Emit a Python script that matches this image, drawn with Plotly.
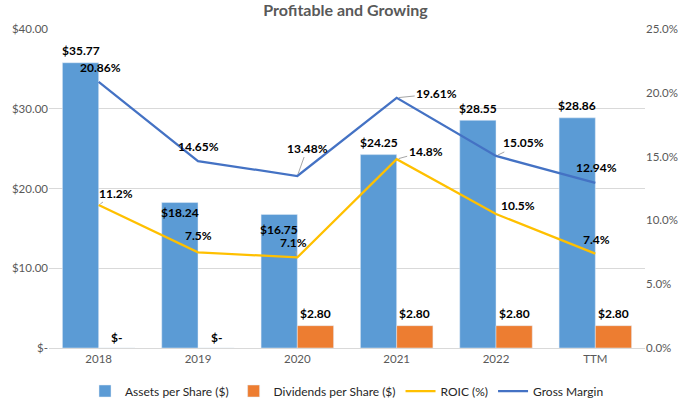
import plotly.graph_objects as go

categories = ["2018", "2019", "2020", "2021", "2022", "TTM"]
assets = [35.77, 18.24, 16.75, 24.25, 28.55, 28.86]
dividends = [0, 0, 2.80, 2.80, 2.80, 2.80]
roic = [11.2, 7.5, 7.1, 14.8, 10.5, 7.4]
gross_margin = [20.86, 14.65, 13.48, 19.61, 15.05, 12.94]

assets_labels = ["$35.77", "$18.24", "$16.75", "$24.25", "$28.55", "$28.86"]
div_labels = ["$-", "$-", "$2.80", "$2.80", "$2.80", "$2.80"]
roic_labels = ["11.2%", "7.5%", "7.1%", "14.8%", "10.5%", "7.4%"]
gm_labels = ["20.86%", "14.65%", "13.48%", "19.61%", "15.05%", "12.94%"]

left_ticks = [0, 10, 20, 30, 40]
left_ticktext = ["$-", "$10.00", "$20.00", "$30.00", "$40.00"]
right_ticks = [0, 5, 10, 15, 20, 25]
right_ticktext = ["0.0%", "5.0%", "10.0%", "15.0%", "20.0%", "25.0%"]

FONT = "Lato"
BLUE = "#5B9BD5"
ORANGE = "#ED7D31"
GOLD = "#FFC000"
LINEBLUE = "#4472C4"

fig = go.Figure()
fig.add_trace(go.Bar(x=categories, y=assets, name="Assets per Share ($)",
                     marker_color=BLUE, yaxis="y"))
fig.add_trace(go.Bar(x=categories, y=dividends, name="Dividends per Share ($)",
                     marker_color=ORANGE, yaxis="y"))
fig.add_trace(go.Scatter(x=categories, y=roic, name="ROIC (%)", mode="lines",
                         line=dict(color=GOLD, width=2.25), yaxis="y2"))
fig.add_trace(go.Scatter(x=categories, y=gross_margin, name="Gross Margin", mode="lines",
                         line=dict(color=LINEBLUE, width=2.25), yaxis="y2"))

lab_font = dict(family=FONT, size=12, color="#000000")
annotations = []

# assets labels (yshift in px)
a_shift = [12, -10, -15, 12, 12, 12]
for i, (v, t, s) in enumerate(zip(assets, assets_labels, a_shift)):
    annotations.append(dict(x=i, y=v, xref="x", yref="y", text="<b>%s</b>" % t,
                            showarrow=False, xshift=-18, yshift=s, font=lab_font))
for i, (v, t) in enumerate(zip(dividends, div_labels)):
    annotations.append(dict(x=i, y=v, xref="x", yref="y", text="<b>%s</b>" % t,
                            showarrow=False, xshift=18, yshift=11 if v == 0 else 12,
                            font=lab_font))

# line labels: (dx, dy, leader)
roic_off = [(17, -12, True), (0, -17, False), (-4, -15, True), (29, -8, True), (22, -9, False), (1, -14, False)]
gm_off = [(2, -14, False), (0, -15, False), (10, -28, True), (40, -4, True), (27, -13, True), (1, -15, False)]

def add_line_labels(vals, labels, offs):
    for i, (v, t, (dx, dy, leader)) in enumerate(zip(vals, labels, offs)):
        if leader:
            annotations.append(dict(x=i, y=v, xref="x", yref="y2", text="<b>%s</b>" % t,
                                    showarrow=True, ax=dx, ay=dy, axref="pixel", ayref="pixel",
                                    arrowhead=0, arrowwidth=1, arrowcolor="#A6A6A6",
                                    standoff=2, font=lab_font))
        else:
            annotations.append(dict(x=i, y=v, xref="x", yref="y2", text="<b>%s</b>" % t,
                                    showarrow=False, xshift=dx, yshift=-dy, font=lab_font))

add_line_labels(roic, roic_labels, roic_off)
add_line_labels(gross_margin, gm_labels, gm_off)

fig.update_layout(
    width=691, height=402,
    margin=dict(l=49, r=46, t=29, b=54, autoexpand=False),
    paper_bgcolor="white", plot_bgcolor="white",
    barmode="group", bargap=0.27, bargroupgap=0,
    title=dict(text="<b>Profitable and Growing</b>", x=0.5, xanchor="center",
               yref="container", y=1 - 10 / 402, yanchor="middle",
               font=dict(family=FONT, size=16, color="#595959")),
    font=dict(family=FONT),
    xaxis=dict(type="category", range=[-0.5, 5.5], autorange=False, automargin=False,
               showgrid=False, showline=True, linecolor="#D9D9D9",
               ticks="", tickfont=dict(family=FONT, size=11.5, color="#595959")),
    yaxis=dict(range=[0, 40], tickvals=left_ticks, ticktext=left_ticktext, automargin=False,
               showgrid=True, gridcolor="#D9D9D9", zeroline=False, ticks="",
               tickfont=dict(family=FONT, size=11.5, color="#595959")),
    yaxis2=dict(range=[0, 25], tickvals=right_ticks, ticktext=right_ticktext, automargin=False,
                overlaying="y", side="right", showgrid=False, zeroline=False, ticks="",
                tickfont=dict(family=FONT, size=11.5, color="#595959")),
    legend=dict(orientation="h", x=0.5, xanchor="center",
                yref="container", y=11 / 402, yanchor="middle",
                font=dict(family=FONT, size=12, color="#262626"),
                traceorder="normal", itemwidth=30),
    annotations=annotations,
    showlegend=True,
)

fig.write_html("out.html", config={"displayModeBar": False},
               post_script="document.body.style.margin='0px';")
